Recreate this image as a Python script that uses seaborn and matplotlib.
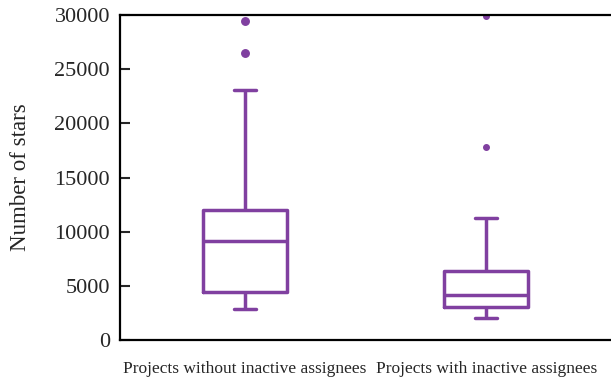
import pandas as pd
import matplotlib
matplotlib.use('Agg')
import matplotlib.pyplot as plt
import seaborn as sns

sns.set_style('white')
plt.rcParams['font.family'] = ['Liberation Serif', 'DejaVu Serif']

# star counts per project
without_inactive = [2860, 3300, 4000, 4430, 6000, 8000, 9140, 10000, 11000, 12000, 23080, 26530, 29450]
with_inactive = [2030, 2500, 2900, 3050, 3500, 3900, 4150, 5000, 5800, 6370, 11300, 17820, 29930]
groups = ['Projects without inactive assignees', 'Projects with inactive assignees']

df = pd.DataFrame({
    'group': [groups[0]] * len(without_inactive) + [groups[1]] * len(with_inactive),
    'stars': without_inactive + with_inactive,
})

purple = '#8040a0'

fig = plt.figure(figsize=(6.11, 3.83), dpi=100)
ax = fig.add_axes([0.196, 0.112, 0.803, 0.849])

flier_sizes = [5.4, 4.0]
for g, fs in zip(groups, flier_sizes):
    sns.boxplot(data=df[df['group'] == g], x='group', y='stars', order=groups,
                fill=False, color=purple, linewidth=2.5, width=0.35,
                capwidths=0.09, ax=ax,
                flierprops=dict(marker='o', markerfacecolor=purple,
                                markeredgecolor=purple, markersize=fs))

ax.set_xlim(-0.52, 1.515)
ax.set_ylim(0, 30000)
ax.set_yticks(range(0, 30001, 5000))
ax.set_xlabel('')
ax.set_ylabel('Number of stars', fontsize=16.5, labelpad=17)

ax.tick_params(axis='y', direction='in', length=7, width=1.5, labelsize=16, pad=7, left=True)
ax.tick_params(axis='x', length=0, labelsize=12.5, pad=15)

for side in ['left', 'bottom', 'top']:
    ax.spines[side].set_linewidth(1.6)
    ax.spines[side].set_color('black')
ax.spines['right'].set_visible(False)

plt.savefig('out.png', dpi=100)
